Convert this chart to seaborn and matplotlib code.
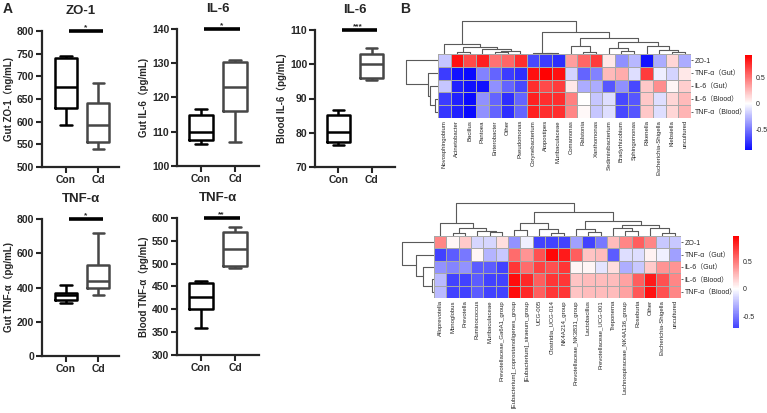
import numpy as np
import pandas as pd
import seaborn as sns
import matplotlib
matplotlib.use("Agg")
import matplotlib.pyplot as plt

# ---------------- data: panel A (min, q1, median, q3, max) ----------------
groups = ["Con", "Cd"]
zo1_con = [593, 630, 677, 740, 745]
zo1_cd = [540, 556, 593, 642, 685]
il6gut_con = [106.5, 107.5, 110, 115, 116.5]
il6gut_cd = [107, 116, 123, 130.5, 131]
il6blood_con = [76.5, 77.3, 80.2, 85.3, 86.7]
il6blood_cd = [95.5, 96, 100, 103, 104.7]
tnfgut_con = [310, 325, 355, 365, 415]
tnfgut_cd = [355, 400, 440, 530, 720]
tnfblood_con = [360, 400, 428, 457, 462]
tnfblood_cd = [490, 495, 533, 570, 580]

# ---------------- data: panel B heatmaps ----------------
rows = ["ZO-1", "TNF-α（Gut）", "IL-6（Gut）", "IL-6（Blood）", "TNF-α（Blood）"]

top_cols = ["Novosphingobium", "Acinetobacter", "Bacillus", "Pantoea", "Enterobacter",
            "Other", "Pseudomonas", "Corynebacterium", "Atopostipes", "Muribaculaceae",
            "Comamonas", "Ralstonia", "Xanthomonas", "Sediminibacterium", "Bradyrhizobium",
            "Sphingomonas", "Rikenella", "Escherichia-Shigella", "Klebsiella", "uncultured"]
top_zo1 = [-0.2, 0.85, 0.65, 0.8, 0.5, 0.55, 0.75, -0.65, -0.7, -0.75,
           0.35, 0.55, 0.7, 0.08, -0.4, -0.25, -0.85, -0.3, 0.15, -0.3]
top_tnf_gut = [-0.7, -0.85, -0.9, -0.45, -0.55, -0.7, -0.75, 0.85, 0.9, 0.85,
               -0.15, -0.55, -0.45, 0.25, 0.3, -0.12, 0.7, -0.06, -0.15, 0.08]
top_il6_gut = [-0.2, -0.8, -0.85, -0.85, -0.4, -0.55, -0.65, 0.75, 0.65, 0.7,
               0.08, -0.3, -0.3, -0.6, -0.4, -0.65, 0.2, 0.4, 0.03, 0.18]
top_il6_blood = [-0.7, -0.8, -0.9, -0.4, -0.55, -0.75, -0.55, 0.8, 0.75, 0.75,
                 0.45, 0.0, -0.2, -0.12, -0.65, -0.6, 0.2, -0.12, 0.15, 0.25]
top_tnf_blood = [-0.72, -0.8, -0.9, -0.4, -0.55, -0.75, -0.55, 0.8, 0.75, 0.75,
                 0.43, 0.02, -0.2, -0.12, -0.65, -0.6, 0.2, -0.12, 0.15, 0.27]

bot_cols = ["Alloprevotella", "Monoglobus", "Prevotella", "Ruminococcus", "Muribaculaceae",
            "Prevotellaceae_Ga6A1_group", "[Eubacterium]_coprostanoligenes_group",
            "[Eubacterium]_siraeum_group", "UCG-005", "Clostridia_UCG-014", "NK4A214_group",
            "Prevotellaceae_NK3B31_group", "Lactobacillus", "Prevotellaceae_UCG-001",
            "Treponema", "Lachnospiraceae_NK4A136_group", "Roseburia", "Other",
            "Escherichia-Shigella", "uncultured"]
bot_zo1 = [0.45, 0.03, 0.2, -0.15, -0.15, 0.12, -0.4, -0.05, -0.9, -0.85,
           -0.75, -0.35, -0.7, -0.5, 0.25, 0.45, 0.6, 0.45, -0.2, -0.2]
bot_tnf_gut = [-0.85, -0.6, -0.5, 0.03, -0.28, -0.2, 0.55, 0.4, 0.65, 0.92,
               0.85, 0.6, 0.22, 0.25, -0.6, -0.12, -0.12, 0.05, -0.05, -0.35]
bot_il6_gut = [-0.4, -0.45, -0.4, -0.6, -0.6, -0.85, 0.75, 0.55, 0.7, 0.65,
               0.75, 0.03, 0.03, -0.1, 0.12, -0.3, -0.2, 0.2, 0.4, 0.4]
bot_il6_blood = [-0.25, -0.75, -0.7, -0.6, -0.85, -0.7, 0.9, 0.8, 0.6, 0.75,
                 0.75, 0.22, 0.25, 0.25, 0.25, 0.35, 0.6, 0.85, 0.65, 0.45]
bot_tnf_blood = [-0.25, -0.75, -0.7, -0.6, -0.85, -0.7, 0.9, 0.8, 0.6, 0.75,
                 0.75, 0.22, 0.25, 0.25, 0.25, 0.35, 0.62, 0.88, 0.65, 0.45]

# cluster trees: (left, right, height), leaves are positions in the shown order
top_col_tree = ((0, ((1, 2, 0.05), (3, ((4, 5, 0.05), 6, 0.1), 0.15), 0.2), 0.31),
                ((7, (8, 9, 0.02), 0.04),
                 ((10, (11, 12, 0.05), 0.25),
                  ((13, (14, 15, 0.1), 0.17), (16, (17, (18, 19, 0.07), 0.12), 0.25), 0.36),
                  0.48), 0.66), 1.0)
top_row_tree = (0, (1, (2, (3, 4, 0.1), 0.25), 0.32), 1.0)
bot_col_tree = ((0, ((1, 2, 0.1), (3, (4, 5, 0.12), 0.15), 0.23), 0.39),
                (((6, 7, 0.18), (8, (9, 10, 0.08), 0.2), 0.39),
                 ((11, (12, 13, 0.12), 0.2),
                  ((14, (15, 16, 0.15), 0.23), (17, (18, 19, 0.1), 0.25), 0.33), 0.46),
                 0.71), 1.0)
bot_row_tree = (0, (1, (2, (3, 4, 0.07), 0.33), 0.56), 1.0)

# ---------------- style ----------------
sns.set_style("white")
plt.rcParams["font.family"] = ["Liberation Sans", "Noto Sans CJK SC", "DejaVu Sans"]

W, H = 767, 413
fig = plt.figure(figsize=(W / 100, H / 100), dpi=100)


def rect(x, y, w, h):
    return [x / W, 1 - (y + h) / H, w / W, h / H]


def box_panel(r, con, cd, title, ylabel, ylim, step, stars, xlim=(-0.7, 1.7)):
    ax = fig.add_axes(rect(*r))
    df = pd.DataFrame({"group": ["Con"] * len(con) + ["Cd"] * len(cd),
                       "value": con + cd})
    sns.boxplot(data=df, x="group", y="value", hue="group", order=groups,
                palette={"Con": "black", "Cd": "#474747"}, fill=False,
                whis=(0, 100), width=0.7, linewidth=1.8, legend=False, ax=ax)
    ax.set_ylim(*ylim)
    ax.set_xlim(*xlim)
    ax.set_yticks(np.arange(ylim[0], ylim[1] + step / 2, step))
    sns.despine(ax=ax)
    for s in ["left", "bottom"]:
        ax.spines[s].set_linewidth(1.6)
    ax.tick_params(axis="both", width=1.5, length=4, labelsize=7.5, pad=1.5,
                   left=True, bottom=True)
    for lab in ax.get_xticklabels() + ax.get_yticklabels():
        lab.set_fontweight("bold")
    ax.set_xlabel("")
    ax.set_ylabel(ylabel, fontsize=7, fontweight="bold", labelpad=2)
    ax.set_title(title, fontsize=9.5, fontweight="bold", pad=12)
    top = ylim[1]
    ax.plot([0.1, 1.15], [top, top], color="black", lw=2.6, clip_on=False,
            solid_capstyle="butt")
    ax.text(0.6, top, stars, ha="center", va="bottom", fontsize=6, fontweight="bold")
    return ax


box_panel((42, 31, 77, 136), zo1_con, zo1_cd, "ZO-1", "Gut ZO-1（ng/mL)",
          (500, 800), 50, "*", xlim=(-0.75, 1.65))
box_panel((177, 29, 82, 137), il6gut_con, il6gut_cd, "IL-6", "Gut IL-6（pg/mL)",
          (100, 140), 10, "*")
box_panel((315, 30, 80, 137), il6blood_con, il6blood_cd, "IL-6", "Blood IL-6（pg/mL)",
          (70, 110), 10, "***")
box_panel((42, 219, 77, 137), tnfgut_con, tnfgut_cd, "TNF-α", "Gut TNF-α（pg/mL)",
          (0, 800), 200, "*", xlim=(-0.75, 1.65))
box_panel((177, 218, 82, 137), tnfblood_con, tnfblood_cd, "TNF-α", "Blood TNF-α（pg/mL)",
          (300, 600), 50, "**")

fig.text(3 / W, 1 - 13 / H, "A", fontsize=10, fontweight="bold")
fig.text(400 / W, 1 - 13 / H, "B", fontsize=10, fontweight="bold")


# ---------------- panel B ----------------
def draw_tree(ax, node, horizontal):
    if isinstance(node, int):
        return node + 0.5, 0.0
    left, right, h = node
    xl, hl = draw_tree(ax, left, horizontal)
    xr, hr = draw_tree(ax, right, horizontal)
    xs, ys = [xl, xl, xr, xr], [hl, h, h, hr]
    if horizontal:
        ax.plot(ys, xs, color="#5a5a5a", lw=0.8)
    else:
        ax.plot(xs, ys, color="#5a5a5a", lw=0.8)
    return (xl + xr) / 2, h


def heat_panel(hm, col_d, row_d, cb, cols, values, col_tree, row_tree, vmin, vmax):
    data = pd.DataFrame(values, index=rows, columns=cols)
    ax = fig.add_axes(rect(*hm))
    cax = fig.add_axes(rect(*cb))
    sns.heatmap(data, ax=ax, cbar_ax=cax, cmap="bwr", center=0, vmin=vmin, vmax=vmax,
                linewidths=0.5, linecolor="#a8a8a8", xticklabels=True, yticklabels=True)
    ax.yaxis.tick_right()
    ax.tick_params(axis="y", rotation=0, labelsize=5, length=1.5, width=0.5, pad=1)
    ax.tick_params(axis="x", rotation=90, labelsize=4.3, length=0, pad=1.5)
    ax.set_xlabel("")
    ax.set_ylabel("")
    cbar = ax.collections[0].colorbar
    cbar.set_ticks([-0.5, 0, 0.5])
    cbar.set_ticklabels(["-0.5", "0", "0.5"])
    cbar.ax.tick_params(labelsize=5, length=0, pad=3)
    cbar.outline.set_visible(False)

    axc = fig.add_axes(rect(*col_d))
    draw_tree(axc, col_tree, False)
    axc.set_xlim(0, len(cols))
    axc.set_ylim(0, 1.02)
    axc.axis("off")

    axr = fig.add_axes(rect(*row_d))
    draw_tree(axr, row_tree, True)
    axr.set_ylim(len(rows), 0)
    axr.set_xlim(1.02, 0)
    axr.axis("off")


heat_panel((438, 54, 253, 64), (438, 20, 253, 34), (405, 54, 33, 64), (745, 55, 7, 95),
           top_cols, [top_zo1, top_tnf_gut, top_il6_gut, top_il6_blood, top_tnf_blood],
           top_col_tree, top_row_tree, -0.88, 0.92)
heat_panel((434, 236, 247, 62), (434, 202, 247, 34), (401, 236, 33, 62), (733, 236, 6, 92),
           bot_cols, [bot_zo1, bot_tnf_gut, bot_il6_gut, bot_il6_blood, bot_tnf_blood],
           bot_col_tree, bot_row_tree, -0.7, 0.95)

fig.savefig("out.png", dpi=100)
